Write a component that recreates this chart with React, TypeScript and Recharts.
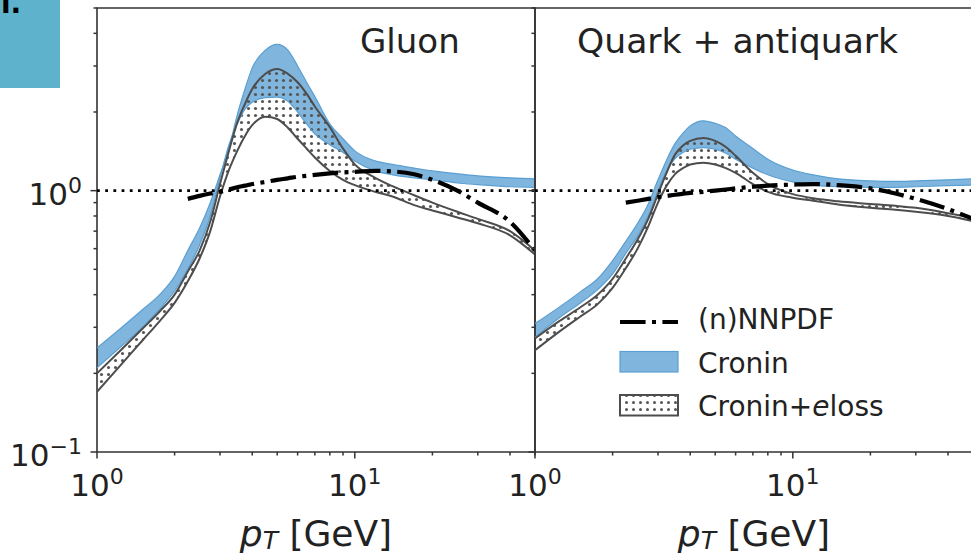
import React from 'react';
import { ComposedChart, Area, Line, XAxis, YAxis, ReferenceLine, ReferenceArea } from 'recharts';

// ---------------- data ----------------
const gluonPT = [1, 1.25, 1.5, 1.75, 2, 2.25, 2.5, 2.75, 3, 3.25, 3.5, 3.75, 4, 4.5, 5, 5.5, 6, 6.5, 7, 8, 9, 10, 12, 14, 17, 20, 25, 30, 40, 50];
const gluonCroninHi = [0.25, 0.30, 0.35, 0.40, 0.47, 0.59, 0.72, 0.90, 1.15, 1.45, 1.95, 2.45, 2.95, 3.45, 3.63, 3.45, 3.0, 2.6, 2.29, 1.8, 1.58, 1.42, 1.30, 1.26, 1.22, 1.19, 1.16, 1.14, 1.12, 1.11];
const gluonCroninLo = [0.21, 0.255, 0.30, 0.352, 0.413, 0.50, 0.62, 0.80, 1.12, 1.5, 1.8, 2.05, 2.18, 2.27, 2.28, 2.2, 2.0, 1.8, 1.65, 1.5, 1.40, 1.30, 1.19, 1.15, 1.12, 1.10, 1.07, 1.055, 1.035, 1.03];
const gluonElossHi = [0.20, 0.248, 0.296, 0.345, 0.40, 0.49, 0.59, 0.76, 1.06, 1.42, 1.82, 2.15, 2.45, 2.8, 2.92, 2.8, 2.6, 2.35, 2.1, 1.75, 1.45, 1.26, 1.12, 1.04, 0.96, 0.90, 0.83, 0.78, 0.70, 0.59];
const gluonElossLo = [0.17, 0.218, 0.267, 0.317, 0.372, 0.45, 0.55, 0.70, 0.95, 1.2, 1.42, 1.62, 1.78, 1.92, 1.88, 1.74, 1.58, 1.45, 1.34, 1.19, 1.10, 1.05, 0.99, 0.95, 0.88, 0.84, 0.79, 0.75, 0.675, 0.57];
const gluonNNPDF = [null, null, null, null, null, 0.93, 0.955, 0.975, 0.99, 1.01, 1.03, 1.045, 1.06, 1.08, 1.10, 1.115, 1.13, 1.14, 1.15, 1.165, 1.175, 1.18, 1.19, 1.185, 1.155, 1.10, 1.0, 0.90, 0.76, 0.59];

const quarkPT = [1, 1.25, 1.5, 1.75, 2, 2.25, 2.5, 2.75, 3, 3.25, 3.5, 3.75, 4, 4.5, 5, 5.5, 6, 7, 8, 10, 12, 15, 20, 25, 30, 40, 50];
const quarkCroninHi = [0.31, 0.36, 0.41, 0.46, 0.54, 0.64, 0.75, 0.89, 1.10, 1.32, 1.52, 1.66, 1.77, 1.85, 1.81, 1.74, 1.62, 1.45, 1.32, 1.20, 1.15, 1.11, 1.09, 1.085, 1.09, 1.10, 1.11];
const quarkCroninLo = [0.275, 0.328, 0.372, 0.418, 0.48, 0.575, 0.67, 0.80, 1.0, 1.2, 1.33, 1.40, 1.44, 1.46, 1.44, 1.39, 1.32, 1.22, 1.15, 1.08, 1.05, 1.035, 1.03, 1.03, 1.035, 1.045, 1.05];
const quarkElossHi = [0.272, 0.318, 0.358, 0.40, 0.46, 0.55, 0.65, 0.78, 0.97, 1.18, 1.38, 1.49, 1.55, 1.59, 1.55, 1.47, 1.36, 1.17, 1.06, 0.97, 0.935, 0.91, 0.89, 0.875, 0.86, 0.82, 0.785];
const quarkElossLo = [0.245, 0.29, 0.33, 0.368, 0.425, 0.505, 0.60, 0.73, 0.90, 1.05, 1.16, 1.22, 1.26, 1.28, 1.26, 1.22, 1.17, 1.06, 0.99, 0.94, 0.915, 0.885, 0.86, 0.845, 0.83, 0.80, 0.765];
const quarkNNPDF = [null, null, null, null, null, 0.90, 0.915, 0.93, 0.945, 0.955, 0.965, 0.973, 0.98, 0.99, 1.0, 1.01, 1.02, 1.035, 1.045, 1.055, 1.06, 1.05, 1.02, 0.975, 0.93, 0.85, 0.78];

const xTicks = [1, 2, 3, 4, 5, 6, 7, 8, 9, 10, 20, 30, 40, 50];
const yTicks = [0.1, 0.2, 0.3, 0.4, 0.5, 0.6, 0.7, 0.8, 0.9, 1, 2, 3, 4, 5];
const xExponents: Record<string, string> = { '1': '0', '10': '1' };
const yExponents: Record<string, string> = { '0.1': '\u22121', '1': '0' };
const panelTitles = ['Gluon', 'Quark + antiquark'];
const legendLabels = ['(n)NNPDF', 'Cronin', 'Cronin+', 'e', 'loss'];

// ---------------- styling ----------------
const FONT = '"DejaVu Sans", Verdana, sans-serif';
const TEXT = '#222';
const AXIS = '#333';
const BLUE_FILL = '#2b86c8';
const BLUE_EDGE = '#5a9fd2';
const ELOSS_EDGE = '#4d4d4d';
const DOT_COLOR = '#555';

function buildRows(pt: number[], cLo: number[], cHi: number[], eLo: number[], eHi: number[], nn: (number | null)[]) {
  return pt.map((p, i) => ({
    pT: p,
    cronin: [cLo[i], cHi[i]],
    eloss: [eLo[i], eHi[i]],
    croninLo: cLo[i],
    croninHi: cHi[i],
    elossLo: eLo[i],
    elossHi: eHi[i],
    nnpdf: nn[i],
  }));
}

const gluonRows = buildRows(gluonPT, gluonCroninLo, gluonCroninHi, gluonElossLo, gluonElossHi, gluonNNPDF);
const quarkRows = buildRows(quarkPT, quarkCroninLo, quarkCroninHi, quarkElossLo, quarkElossHi, quarkNNPDF);

const XTick = (props: any) => {
  const { x, y, payload } = props;
  const exp = xExponents[String(payload.value)];
  const major = exp !== undefined;
  return (
    <g>
      <line x1={x} x2={x} y1={y} y2={y + (major ? 6.5 : 3.5)} stroke={AXIS} strokeWidth={1.5} />
      {major && (
        <text x={x} y={y + 44} textAnchor="middle" fontFamily={FONT} fontSize={31} fill={TEXT}>
          10<tspan dy={-12} fontSize={22}>{exp}</tspan>
        </text>
      )}
    </g>
  );
};

const makeYTick = (showLabels: boolean) => (props: any) => {
  const { x, y, payload } = props;
  const exp = yExponents[String(payload.value)];
  const major = exp !== undefined;
  return (
    <g>
      <line x1={x - (major ? 6.5 : 3.5)} x2={x} y1={y} y2={y} stroke={AXIS} strokeWidth={1.5} />
      {major && showLabels && (
        <text x={x - 15} y={y + 14} textAnchor="end" fontFamily={FONT} fontSize={31} fill={TEXT}>
          10<tspan dy={-12} fontSize={22}>{exp}</tspan>
        </text>
      )}
    </g>
  );
};

function Panel({ rows, id, left, yAxisWidth, showYLabels }: any) {
  const plotW = 438;
  const rightMargin = 20;
  const width = yAxisWidth + plotW + rightMargin;
  return (
    <div style={{ position: 'absolute', left, top: 0 }}>
      <ComposedChart width={width} height={556} data={rows} margin={{ top: 8, right: rightMargin, bottom: 0, left: 0 }}>
        <defs>
          <pattern id={`dots-${id}`} width={7} height={7} patternUnits="userSpaceOnUse">
            <circle cx={3.5} cy={3.5} r={1.55} fill={DOT_COLOR} />
          </pattern>
        </defs>
        <XAxis
          dataKey="pT"
          type="number"
          scale="log"
          domain={[1, 50]}
          allowDataOverflow
          ticks={xTicks}
          interval={0}
          tickSize={0}
          tickMargin={0}
          tickLine={false}
          axisLine={false}
          tick={XTick}
          height={104}
        />
        <YAxis
          type="number"
          scale="log"
          domain={[0.1, 5]}
          allowDataOverflow
          ticks={yTicks}
          interval={0}
          tickSize={0}
          tickMargin={0}
          tickLine={false}
          axisLine={false}
          tick={makeYTick(showYLabels)}
          width={yAxisWidth}
        />
        <Area type="monotone" dataKey="cronin" fill={BLUE_FILL} fillOpacity={0.6} stroke="none" isAnimationActive={false} />
        <Line type="monotone" dataKey="croninHi" stroke={BLUE_EDGE} strokeWidth={1.2} dot={false} isAnimationActive={false} />
        <Line type="monotone" dataKey="croninLo" stroke={BLUE_EDGE} strokeWidth={1.2} dot={false} isAnimationActive={false} />
        <Area type="monotone" dataKey="eloss" fill={`url(#dots-${id})`} fillOpacity={1} stroke="none" isAnimationActive={false} />
        <Line type="monotone" dataKey="elossHi" stroke={ELOSS_EDGE} strokeWidth={2} dot={false} isAnimationActive={false} />
        <Line type="monotone" dataKey="elossLo" stroke={ELOSS_EDGE} strokeWidth={2} dot={false} isAnimationActive={false} />
        <ReferenceLine y={1} stroke="#000" strokeWidth={2.6} strokeDasharray="2.8 5.4" />
        <Line type="monotone" dataKey="nnpdf" stroke="#000" strokeWidth={4.2} strokeDasharray="25.6 6.4 4 6.4" dot={false} isAnimationActive={false} />
        <ReferenceArea x1={1} x2={50} y1={0.1} y2={5} fill="none" stroke={AXIS} strokeWidth={1.6} ifOverflow="visible" />
      </ComposedChart>
    </div>
  );
}

function Overlay() {
  return (
    <svg width={971} height={556} style={{ position: 'absolute', left: 0, top: 0, pointerEvents: 'none' }}>
      <defs>
        <pattern id="dots-legend" width={7} height={7} patternUnits="userSpaceOnUse">
          <circle cx={3.5} cy={3.5} r={1.5} fill={DOT_COLOR} />
        </pattern>
      </defs>
      <rect x={0} y={0} width={60} height={88} fill="#5fb2cb" />
      <text x={1} y={13} fontFamily={FONT} fontSize={28} fontWeight="bold" fill="#000">l.</text>

      <text x={360} y={53} fontFamily={FONT} fontSize={34} fill={TEXT}>{panelTitles[0]}</text>
      <text x={577} y={53} fontFamily={FONT} fontSize={34.6} fill={TEXT}>{panelTitles[1]}</text>

      <line x1={620} x2={678} y1={322} y2={322} stroke="#000" strokeWidth={4.2} strokeDasharray="25.6 6.4 4 6.4" />
      <text x={698} y={329} fontFamily={FONT} fontSize={28} fill={TEXT}>{legendLabels[0]}</text>
      <rect x={620} y={351.5} width={58} height={20.5} fill={BLUE_FILL} fillOpacity={0.6} stroke={BLUE_EDGE} strokeWidth={1.2} />
      <text x={698} y={373} fontFamily={FONT} fontSize={28} fill={TEXT}>{legendLabels[1]}</text>
      <rect x={620} y={395} width={58} height={20.5} fill="url(#dots-legend)" stroke={ELOSS_EDGE} strokeWidth={2} />
      <text x={698} y={416} fontFamily={FONT} fontSize={28} fill={TEXT}>
        {legendLabels[2]}<tspan fontStyle="italic">{legendLabels[3]}</tspan>{legendLabels[4]}
      </text>

      {[316, 754].map((cx) => (
        <text key={cx} x={cx} y={546} textAnchor="middle" fontFamily={FONT} fontSize={36} fill={TEXT}>
          <tspan fontStyle="italic">p</tspan>
          <tspan fontStyle="italic" fontSize={25} dy={3}>T</tspan>
          <tspan dy={-3}> [GeV]</tspan>
        </text>
      ))}
    </svg>
  );
}

export default function App() {
  return (
    <div style={{ position: 'absolute', left: 0, top: 0, width: 971, height: 556, overflow: 'hidden', background: '#fff' }}>
      <Panel rows={gluonRows} id="g" left={0} yAxisWidth={97} showYLabels={true} />
      <Panel rows={quarkRows} id="q" left={495} yAxisWidth={40} showYLabels={false} />
      <Overlay />
    </div>
  );
}
